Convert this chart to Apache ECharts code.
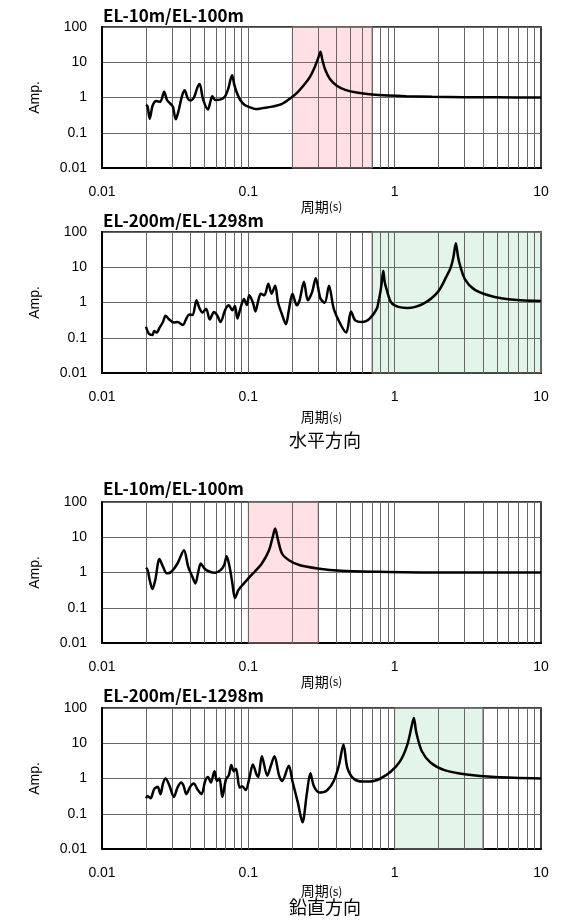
<!DOCTYPE html>
<html>
<head>
<meta charset="utf-8">
<script src="https://cdn.jsdelivr.net/npm/echarts@6/dist/echarts.min.js"></script>
<style>
  html, body { margin: 0; padding: 0; background: #fff; }
  #chart { width: 565px; height: 924px; }
</style>
</head>
<body>
<div id="chart"></div>
<script>
// --- data ---
// 水平方向 EL-10m/EL-100m
var h1Period = [0.020, 0.0205, 0.0212, 0.0222, 0.0235, 0.0250, 0.0266, 0.0278, 0.0292, 0.0305,
  0.0319, 0.0335, 0.0352, 0.0367, 0.0385, 0.0400, 0.0425, 0.0448, 0.0465, 0.0490,
  0.0530, 0.0550, 0.0567, 0.0595, 0.0640, 0.0690, 0.0730, 0.0755, 0.0775, 0.0800,
  0.0830, 0.0880, 0.0950, 0.1050, 0.1130, 0.1250, 0.1450, 0.1700, 0.1960, 0.2200,
  0.2430, 0.2650, 0.2850, 0.3000, 0.3110, 0.3200, 0.3350, 0.3600, 0.4000, 0.4600,
  0.5500, 0.7000, 0.9000, 1.2, 1.8, 3.0, 5.0, 10];
var h1Amp = [0.62, 0.55, 0.25, 0.60, 0.80, 0.75, 1.45, 0.85, 0.68, 0.55,
  0.24, 0.45, 1.10, 1.60, 0.95, 0.82, 1.0, 1.9, 2.4, 0.9,
  0.46, 0.75, 1.08, 0.85, 0.87, 1.05, 1.8, 3.2, 4.3, 2.4,
  1.45, 0.85, 0.6, 0.51, 0.47, 0.50, 0.55, 0.66, 0.98, 1.5,
  2.4, 4.0, 7.5, 13, 20, 12, 6.2, 3.4, 2.2, 1.65,
  1.38, 1.22, 1.14, 1.09, 1.05, 1.02, 1.01, 1.0];

// 水平方向 EL-200m/EL-1298m
var h2Period = [0.0200, 0.0209, 0.0221, 0.0227, 0.0236, 0.0247, 0.0261, 0.0272, 0.0288, 0.0310,
  0.0328, 0.0357, 0.0377, 0.0393, 0.0416, 0.0442, 0.0465, 0.0487, 0.0515, 0.0545,
  0.0583, 0.0611, 0.0646, 0.0695, 0.0736, 0.0778, 0.0810, 0.0842, 0.0882, 0.0933,
  0.0976, 0.1015, 0.1074, 0.1118, 0.1169, 0.1217, 0.1287, 0.1370, 0.1441, 0.1525,
  0.1596, 0.1689, 0.1807, 0.1891, 0.2001, 0.2142, 0.2240, 0.2398, 0.2551, 0.2731,
  0.2889, 0.3109, 0.3327, 0.3560, 0.3833, 0.4292, 0.4671, 0.5028, 0.5381, 0.6025,
  0.6745, 0.7552, 0.7800, 0.7991, 0.8150, 0.8360, 0.8550, 0.8850, 0.9469, 1.060,
  1.221, 1.574, 1.975, 2.274, 2.420, 2.518, 2.619, 2.700, 2.772, 3.017,
  3.475, 4.357, 5.462, 7.244, 10];
var h2Amp = [0.205, 0.13, 0.12, 0.155, 0.14, 0.19, 0.28, 0.42, 0.33, 0.27,
  0.28, 0.23, 0.35, 0.46, 0.44, 1.15, 0.67, 0.52, 0.67, 0.33,
  0.54, 0.44, 0.28, 0.62, 0.83, 0.6, 0.8, 0.35, 0.67, 1.25,
  0.85, 1.6, 1.0, 0.56, 1.13, 1.78, 1.6, 3.4, 1.78, 3.0,
  1.0, 0.49, 0.24, 0.6, 1.78, 0.83, 1.15, 3.9, 1.15, 2.0,
  4.9, 1.3, 0.98, 3.0, 0.67, 0.23, 0.14, 0.56, 0.31, 0.28,
  0.35, 0.67, 1.2, 2.0, 3.6, 8.0, 3.8, 2.2, 1.0, 0.75,
  0.7, 0.93, 2.0, 5.8, 10, 19, 48, 22, 13, 4.6,
  2.4, 1.6, 1.3, 1.15, 1.1];

// 鉛直方向 EL-10m/EL-100m
var v1Period = [0.0200, 0.0203, 0.0212, 0.0221, 0.0231, 0.0247, 0.0261, 0.0277, 0.0298, 0.0328,
  0.0363, 0.0388, 0.0416, 0.0435, 0.0455, 0.0473, 0.0501, 0.0545, 0.0593, 0.0646,
  0.0683, 0.0711, 0.0744, 0.0778, 0.0810, 0.0857, 0.0933, 0.1015, 0.1105, 0.1237,
  0.1385, 0.1466, 0.1525, 0.1596, 0.1702, 0.1906, 0.2257, 0.2972, 0.4292, 0.7552,
  1.79, 10];
var v1Amp = [1.23, 1.3, 0.6, 0.34, 0.6, 2.4, 1.47, 0.95, 1.05, 1.8,
  4.3, 1.47, 0.73, 0.49, 1.05, 1.8, 1.3, 1.05, 0.98, 1.17,
  1.6, 2.9, 1.47, 0.49, 0.19, 0.32, 0.49, 0.73, 1.05, 1.8,
  4.3, 10, 17.6, 8.3, 3.4, 2.2, 1.6, 1.3, 1.12, 1.05,
  1.0, 1.0];

// 鉛直方向 EL-200m/EL-1298m
var v2Period = [0.0200, 0.0205, 0.0215, 0.0227, 0.0240, 0.0251, 0.0261, 0.0272, 0.0288, 0.0310,
  0.0328, 0.0347, 0.0361, 0.0377, 0.0400, 0.0423, 0.0452, 0.0479, 0.0507, 0.0530,
  0.0554, 0.0587, 0.0611, 0.0635, 0.0664, 0.0703, 0.0736, 0.0765, 0.0796, 0.0824,
  0.0872, 0.0907, 0.0960, 0.1015, 0.1074, 0.1137, 0.1169, 0.1237, 0.1347, 0.1425,
  0.1508, 0.1623, 0.1702, 0.1891, 0.2001, 0.2178, 0.2344, 0.2508, 0.2654, 0.2808,
  0.3057, 0.3422, 0.3833, 0.4173, 0.4467, 0.4751, 0.5231, 0.6025, 0.6745, 0.7991,
  0.9469, 1.090, 1.221, 1.314, 1.352, 1.406, 1.531, 1.763, 2.211, 3.103,
  4.877, 10];
var v2Amp = [0.275, 0.32, 0.275, 0.5, 0.58, 0.36, 0.72, 1.0, 0.65, 0.30,
  0.55, 0.77, 0.62, 0.36, 0.58, 0.72, 0.47, 0.36, 0.85, 1.1,
  0.77, 1.6, 0.85, 1.0, 0.30, 0.95, 1.25, 2.4, 1.6, 1.9,
  0.55, 0.6, 0.47, 1.0, 2.5, 1.3, 1.1, 4.3, 1.2, 2.3,
  4.3, 1.2, 0.85, 2.3, 0.85, 0.21, 0.057, 0.36, 1.4, 0.6,
  0.4, 0.45, 0.85, 2.5, 9.2, 2.0, 1.0, 0.82, 0.82, 1.0,
  1.6, 3.1, 9.2, 34, 52, 20, 6, 2.8, 1.7, 1.3,
  1.1, 1.0];

var titles = ['EL-10m/EL-100m', 'EL-200m/EL-1298m', 'EL-10m/EL-100m', 'EL-200m/EL-1298m'];
var bandRanges = [[0.2, 0.7], [0.7, 10], [0.1, 0.3], [1, 4]];
var bandColors = ['rgba(255,90,110,0.18)', 'rgba(60,180,100,0.14)', 'rgba(255,90,110,0.18)', 'rgba(60,180,100,0.14)'];
var gridX = [0.02, 0.03, 0.04, 0.05, 0.06, 0.07, 0.08, 0.09,
  0.1, 0.2, 0.3, 0.4, 0.5, 0.6, 0.7, 0.8, 0.9,
  1, 2, 3, 4, 5, 6, 7, 8, 9];

var periods = [h1Period, h2Period, v1Period, v2Period];
var amps = [h1Amp, h2Amp, v1Amp, v2Amp];

var gridTops = [27, 232, 502, 708];
var titleTops = [7, 212, 480, 687];
var nameGaps = [30, 37, 30, 35];
var fontLatin = 'Liberation Sans, Arial, sans-serif';
var fontJp = 'Noto Sans CJK JP, sans-serif';

function zip(xs, ys) {
  return xs.map(function (x, i) { return [x, ys[i]]; });
}

var option = {
  backgroundColor: '#fff',
  animation: false,
  title: [],
  grid: [],
  xAxis: [],
  yAxis: [],
  series: [],
  graphic: [
    { type: 'text', left: 289, top: 431, style: { text: '水平方向', font: '18px ' + fontJp, fill: '#000' } },
    { type: 'text', left: 289, top: 898, style: { text: '鉛直方向', font: '18px ' + fontJp, fill: '#000' } }
  ]
};

for (var i = 0; i < 4; i++) {
  option.title.push({
    text: titles[i],
    left: 103,
    top: titleTops[i],
    padding: 0,
    textStyle: { fontSize: 17, fontWeight: 'bold', fontFamily: fontJp, color: '#000' }
  });
  option.grid.push({
    left: 102, width: 439, top: gridTops[i], height: 141,
    show: true, borderColor: '#000', borderWidth: 1.5, backgroundColor: 'transparent'
  });
  option.xAxis.push({
    type: 'log', logBase: 10, gridIndex: i, min: 0.01, max: 10,
    name: '{a|周期}{b|(s)}', nameLocation: 'middle', nameGap: nameGaps[i],
    nameTextStyle: {
      rich: {
        a: { fontSize: 14, fontFamily: fontJp, color: '#000' },
        b: { fontSize: 12, fontFamily: fontJp, color: '#000' }
      }
    },
    axisLine: { show: true, lineStyle: { color: '#000', width: 2 } },
    axisTick: { show: false },
    axisLabel: { fontSize: 14, color: '#000', fontFamily: fontLatin, margin: 17 },
    splitLine: { show: false }
  });
  option.yAxis.push({
    type: 'log', logBase: 10, gridIndex: i, min: 0.01, max: 100,
    name: 'Amp.', nameLocation: 'middle', nameGap: 60, nameRotate: 90,
    nameTextStyle: { fontSize: 14, fontFamily: fontLatin, color: '#000' },
    axisLine: { show: true, lineStyle: { color: '#000', width: 2 } },
    axisTick: { show: false },
    axisLabel: { fontSize: 14, color: '#000', fontFamily: fontLatin, margin: 15 },
    splitLine: { show: true, lineStyle: { color: '#666', width: 1 } }
  });
  // grid lines and shaded band
  option.series.push({
    type: 'line', xAxisIndex: i, yAxisIndex: i, data: [], silent: true, z: 1,
    markLine: {
      z: 1, silent: true, symbol: ['none', 'none'],
      label: { show: false },
      lineStyle: { color: '#666', width: 1, type: 'solid' },
      emphasis: { disabled: true },
      data: gridX.map(function (v) { return { xAxis: v }; })
    },
    markArea: {
      z: 1, silent: true,
      itemStyle: { color: bandColors[i], borderColor: '#888', borderWidth: 1 },
      data: [[{ xAxis: bandRanges[i][0] }, { xAxis: bandRanges[i][1] }]]
    }
  });
  option.series.push({
    type: 'line', xAxisIndex: i, yAxisIndex: i, z: 10,
    data: zip(periods[i], amps[i]),
    showSymbol: false, smooth: 0.3,
    lineStyle: { color: '#000', width: 2.5 }
  });
}

var chart = echarts.init(document.getElementById('chart'));
chart.setOption(option);
</script>
</body>
</html>
